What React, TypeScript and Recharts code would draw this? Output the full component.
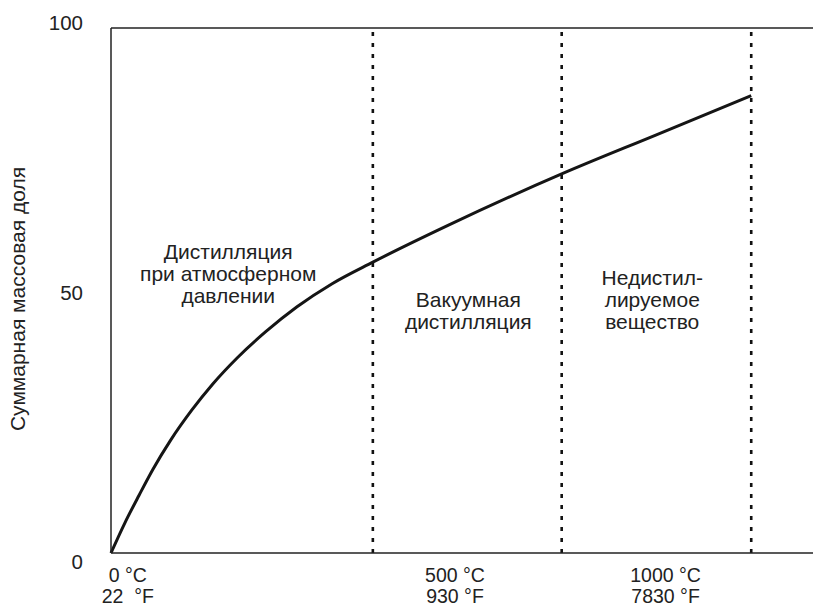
import React from "react";
import {
  LineChart,
  Line,
  XAxis,
  YAxis,
  ReferenceLine,
  ReferenceDot,
} from "recharts";

// cumulative mass fraction curve (x in relative position units 0..100)
const curveX = [0, 2, 4, 6, 8.5, 11.5, 14.5, 18, 22, 26.5, 31.5, 37.3, 48, 64.2, 77.6, 91.2];
const curveY = [0, 5.8, 11.0, 16.0, 21.5, 27.2, 32.2, 37.2, 42.1, 46.9, 51.3, 55.4, 62.4, 72.2, 79.6, 87.1];

// region boundaries (dotted lines)
const boundaries = [37.3, 64.2, 91.2];

// x tick labels
const xTickPos = [2.4, 49, 79];
const xTickC = ["0 °C", "500 °C", "1000 °C"];
const xTickF = ["22  °F", "930 °F", "7830 °F"];

const yTicks = [0, 50, 100];

// region annotations
const regionLines = [
  ["Дистилляция", "при атмосферном", "давлении"],
  ["Вакуумная", "дистилляция"],
  ["Недистил-", "лируемое", "вещество"],
];
const regionX = [16.7, 50.9, 77.1];
const regionY = [53.3, 46.1, 48.2];

const yTitle = "Суммарная массовая доля";

const data = curveX.map((x, i) => ({ x, y: curveY[i] }));

const FONT = "'Liberation Sans', Arial, Helvetica, sans-serif";
const INK = "#222";

const XTick = (props: any) => {
  const { x, y, index } = props;
  return (
    <text
      x={x}
      textAnchor="middle"
      fontFamily={FONT}
      fontSize={19.5}
      fill={INK}
      style={{ whiteSpace: "pre" }}
    >
      <tspan x={x} y={y + 27}>{xTickC[index]}</tspan>
      <tspan x={x} y={y + 47.5}>{xTickF[index]}</tspan>
    </text>
  );
};

const YTick = (props: any) => {
  const { x, y, payload } = props;
  const dy = 9 - 0.14 * payload.value;
  return (
    <text
      x={x}
      y={y + dy}
      dy={7}
      textAnchor="end"
      fontFamily={FONT}
      fontSize={20.5}
      fill={INK}
    >
      {payload.value}
    </text>
  );
};

const RegionText = (lines: string[]) => (props: any) => {
  const { cx, cy } = props;
  const lh = 22;
  const start = cy - ((lines.length - 1) * lh) / 2;
  return (
    <text textAnchor="middle" fontFamily={FONT} fontSize={21} fill={INK}>
      {lines.map((l, i) => (
        <tspan key={i} x={cx} y={start + i * lh} dy={7.5}>
          {l}
        </tspan>
      ))}
    </text>
  );
};

export default function App() {
  return (
    <div style={{ position: "absolute", left: 0, top: 0, width: 813, height: 605, overflow: "hidden", background: "#fff" }}>
      <LineChart
        width={813}
        height={605}
        data={data}
        margin={{ top: 28, right: 0, bottom: 0, left: 51 }}
      >
        <XAxis
          dataKey="x"
          type="number"
          domain={[0, 100]}
          ticks={xTickPos}
          interval={0}
          tickLine={false}
          tickSize={0}
          height={52}
          axisLine={{ stroke: INK, strokeWidth: 1.5 }}
          tick={<XTick />}
        />
        <YAxis
          type="number"
          domain={[0, 100]}
          ticks={yTicks}
          width={60}
          tickLine={false}
          tickSize={26}
          axisLine={{ stroke: INK, strokeWidth: 1.5 }}
          tick={<YTick />}
          label={{
            content: () => (
              <text
                transform="translate(25, 299) rotate(-90)"
                textAnchor="middle"
                fontFamily={FONT}
                fontSize={21}
                fill={INK}
              >
                {yTitle}
              </text>
            ),
          }}
        />
        <ReferenceLine y={100} stroke={INK} strokeWidth={1.5} />
        {boundaries.map((b) => (
          <ReferenceLine
            key={b}
            x={b}
            stroke="#111"
            strokeWidth={2.6}
            strokeDasharray="4 7"
          />
        ))}
        {regionLines.map((lines, i) => (
          <ReferenceDot
            key={i}
            x={regionX[i]}
            y={regionY[i]}
            r={0}
            shape={RegionText(lines)}
          />
        ))}
        <Line
          type="monotone"
          dataKey="y"
          stroke="#151515"
          strokeWidth={3}
          dot={false}
          isAnimationActive={false}
        />
      </LineChart>
    </div>
  );
}
